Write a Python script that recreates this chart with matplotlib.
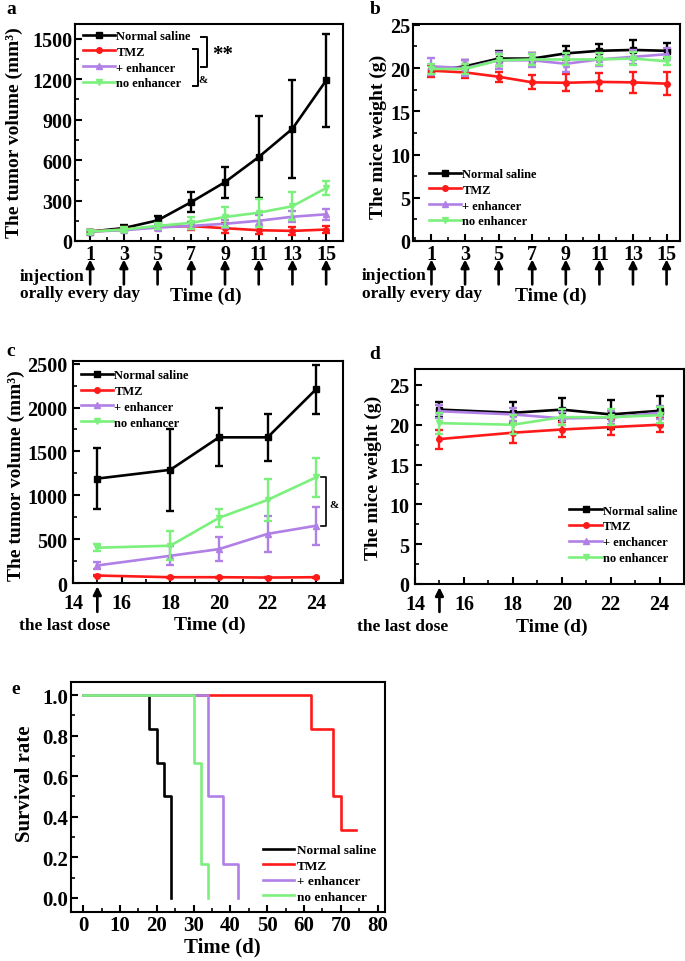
import numpy as np
import matplotlib
matplotlib.use("Agg")
from matplotlib import pyplot as plt
from matplotlib.ticker import MultipleLocator, FormatStrFormatter

plt.rcParams['font.family'] = ['Liberation Serif', 'DejaVu Serif']
plt.rcParams['font.weight'] = 'bold'
plt.rcParams['axes.labelweight'] = 'bold'

# data
groups = ["Normal saline", "TMZ", "+ enhancer", "no enhancer"]
groups_d = ["Normal saline", "TMZ", "+ enchancer", "no enhancer"]
colors = ["#000000", "#ff1a1a", "#b080e6", "#7cf07c"]
markers = ["s", "o", "^", "v"]

days_a = [1, 3, 5, 7, 9, 11, 13, 15]
vol_ns = [70, 96, 153, 289, 437, 623, 833, 1191]
vol_ns_err = [15, 20, 35, 75, 115, 305, 365, 345]
vol_tmz = [70, 85, 105, 110, 95, 80, 75, 85]
vol_tmz_err = [15, 20, 20, 30, 35, 30, 30, 25]
vol_enh = [70, 80, 100, 112, 128, 150, 180, 198]
vol_enh_err = [15, 15, 20, 25, 30, 40, 40, 40]
vol_noenh = [70, 85, 112, 135, 178, 210, 258, 393]
vol_noenh_err = [15, 20, 25, 45, 75, 105, 105, 55]

wt_ns = [19.7, 20.2, 21.1, 21.1, 21.7, 22.0, 22.1, 22.0]
wt_ns_err = [0.6, 0.7, 0.9, 0.7, 0.8, 0.8, 1.1, 0.9]
wt_tmz = [19.7, 19.5, 19.0, 18.35, 18.3, 18.4, 18.35, 18.2]
wt_tmz_err = [0.7, 0.6, 0.6, 0.8, 1.0, 1.0, 1.2, 1.3]
wt_enh = [20.2, 20.0, 20.9, 20.9, 20.5, 21.0, 21.3, 21.6]
wt_enh_err = [1.0, 0.9, 1.0, 0.8, 0.9, 0.8, 0.8, 0.7]
wt_noenh = [19.9, 19.9, 20.9, 21.0, 21.0, 21.0, 21.1, 20.8]
wt_noenh_err = [0.6, 0.6, 0.7, 0.6, 0.7, 0.7, 0.8, 0.5]

days_c = [15, 18, 20, 22, 24]
vol2_ns = [1190, 1290, 1660, 1660, 2210]
vol2_ns_err = [350, 465, 330, 270, 280]
vol2_tmz = [85, 66, 66, 62, 66]
vol2_tmz_err = [10, 8, 8, 8, 8]
vol2_enh = [200, 310, 386, 560, 653]
vol2_enh_err = [40, 110, 140, 205, 215]
vol2_noenh = [402, 425, 742, 947, 1205]
vol2_noenh_err = [40, 165, 105, 240, 220]

wt2_ns = [21.9, 21.5, 21.9, 21.3, 21.75]
wt2_ns_err = [0.9, 1.4, 1.4, 1.8, 1.8]
wt2_tmz = [18.2, 19.0, 19.4, 19.7, 20.0]
wt2_tmz_err = [1.2, 1.3, 1.0, 1.0, 0.9]
wt2_enh = [21.7, 21.3, 20.8, 20.9, 21.5]
wt2_enh_err = [0.8, 0.8, 0.8, 0.8, 0.8]
wt2_noenh = [20.2, 20.0, 20.95, 20.95, 21.2]
wt2_noenh_err = [1.3, 1.2, 1.0, 1.0, 1.0]

surv_t_ns = [0, 18, 20, 22, 24]
surv_ns = [1.0, 0.833, 0.667, 0.5, 0.0]
surv_t_tmz = [0, 62, 68, 70, 74]
surv_tmz = [1.0, 0.833, 0.5, 0.333, 0.333]
surv_t_enh = [0, 34, 38, 42]
surv_enh = [1.0, 0.5, 0.167, 0.0]
surv_t_noenh = [0, 30, 32, 34]
surv_noenh = [1.0, 0.667, 0.167, 0.0]

W, H = 685, 962
fig = plt.figure(figsize=(W / 100, H / 100), dpi=100)


def box(l, t, r, b):
    return [l / W, 1 - b / H, (r - l) / W, (b - t) / H]


def ftext(x, y, s, **kw):
    fig.text(x / W, 1 - y / H, s, ha=kw.pop('ha', 'center'), va=kw.pop('va', 'center'),
             fontweight='bold', **kw)


def style(ax, xmin, ymin, fs=14.5, xpad=2, ypad=2):
    for sp in ax.spines.values():
        sp.set_linewidth(1.5)
    ax.xaxis.set_minor_locator(MultipleLocator(xmin))
    ax.yaxis.set_minor_locator(MultipleLocator(ymin))
    ax.tick_params(which='major', direction='in', length=5, width=1.5, labelsize=fs)
    ax.tick_params(axis='x', which='major', pad=xpad)
    ax.tick_params(axis='y', which='major', pad=ypad)
    ax.tick_params(which='minor', direction='in', length=3, width=1.2)
    for lab in ax.get_xticklabels() + ax.get_yticklabels():
        lab.set_fontweight('bold')


def curves(ax, x, ys, errs, labels, loc, anchor):
    handles = []
    for y, e, c, m, lab in zip(ys, errs, colors, markers, labels):
        ax.errorbar(x, y, yerr=e, fmt='none', ecolor=c, elinewidth=1.7,
                    capsize=3, capthick=1.7)
        h, = ax.plot(x, y, color=c, marker=m, ms=4, lw=1.9, label=lab)
        handles.append(h)
    leg = ax.legend(handles=handles, loc=loc, bbox_to_anchor=anchor, frameon=False,
                    fontsize=9, handlelength=2.6, handletextpad=0.1, labelspacing=0.3,
                    borderaxespad=0)
    for t in leg.get_texts():
        t.set_fontweight('bold')


def arrows(ax, xs, head, tail):
    for x in xs:
        ax.annotate('', xy=(x, head), xytext=(x, tail),
                    xycoords=ax.get_xaxis_transform(), annotation_clip=False,
                    arrowprops=dict(arrowstyle='-|>', color='black', lw=1.9,
                                    mutation_scale=12, shrinkA=0, shrinkB=0))


# a
ax = fig.add_axes(box(75, 25, 343, 242))
curves(ax, days_a, [vol_ns, vol_tmz, vol_enh, vol_noenh],
       [vol_ns_err, vol_tmz_err, vol_enh_err, vol_noenh_err], groups, 'upper left',
       (0.01, 0.995))
ax.set_xlim(0.1, 16)
ax.set_ylim(0, 1610)
ax.set_xticks(days_a)
ax.set_yticks([0, 300, 600, 900, 1200, 1500])
style(ax, 1, 150)
arrows(ax, days_a, -0.085, -0.2)
ax.plot([0.470, 0.493, 0.493, 0.470], [0.940, 0.940, 0.802, 0.802], transform=ax.transAxes,
        color='black', lw=1.4)
ax.plot([0.440, 0.459, 0.459, 0.440], [0.885, 0.885, 0.714, 0.714], transform=ax.transAxes,
        color='black', lw=1.4)
ax.text(0.552, 0.862, '**', transform=ax.transAxes, fontsize=15, ha='center', va='center',
        fontweight='bold')
ax.text(0.478, 0.745, '&', transform=ax.transAxes, fontsize=8, ha='center', va='center',
        fontweight='bold')
ftext(11, 10, 'a', fontsize=14)
ftext(14, 133, 'The tumor volume (mm³)', rotation=90, fontsize=14)
ftext(20, 277, 'injection', ha='left', fontsize=12.5)
ftext(20, 294, 'orally every day', ha='left', fontsize=12.5)
ftext(206, 296, 'Time (d)', fontsize=14)

# b
ax = fig.add_axes(box(413, 25, 680, 242))
curves(ax, days_a, [wt_ns, wt_tmz, wt_enh, wt_noenh],
       [wt_ns_err, wt_tmz_err, wt_enh_err, wt_noenh_err], groups, 'lower left',
       (0.04, 0.04))
ax.set_xlim(-0.1, 15.8)
ax.set_ylim(0, 25.1)
ax.set_xticks(days_a)
ax.set_yticks([0, 5, 10, 15, 20, 25])
style(ax, 1, 2.5)
arrows(ax, days_a, -0.085, -0.2)
ftext(375, 10, 'b', fontsize=14)
ftext(378, 137, 'The mice weight (g)', rotation=90, fontsize=14)
ftext(362, 276, 'injection', ha='left', fontsize=12.5)
ftext(362, 294, 'orally every day', ha='left', fontsize=12.5)
ftext(551, 296, 'Time (d)', fontsize=14)

# c
ax = fig.add_axes(box(73, 362, 343, 584))
curves(ax, days_c, [vol2_ns, vol2_tmz, vol2_enh, vol2_noenh],
       [vol2_ns_err, vol2_tmz_err, vol2_enh_err, vol2_noenh_err], groups, 'upper left',
       (0.01, 0.985))
ax.set_xlim(14, 25.1)
ax.set_ylim(0, 2530)
ax.set_xticks([14, 16, 18, 20, 22, 24])
ax.set_yticks([0, 500, 1000, 1500, 2000, 2500])
style(ax, 1, 250, xpad=7, ypad=4)
arrows(ax, [15], -0.015, -0.13)
ax.plot([24.2, 24.42, 24.42, 24.2], [1204, 1204, 648, 648], color='black', lw=1.2,
        clip_on=False)
ax.text(24.72, 900, '&', fontsize=8, ha='center', va='center', fontweight='bold')
ftext(11, 352, 'c', fontsize=14)
ftext(16, 476, 'The tumor volume (mm³)', rotation=90, fontsize=14)
ftext(65, 626, 'the last dose', fontsize=12.5)
ftext(210, 625, 'Time (d)', fontsize=14)

# d
ax = fig.add_axes(box(415, 370, 684, 585))
curves(ax, days_c, [wt2_ns, wt2_tmz, wt2_enh, wt2_noenh],
       [wt2_ns_err, wt2_tmz_err, wt2_enh_err, wt2_noenh_err], groups_d, 'lower right',
       (0.995, 0.07))
ax.set_xlim(14, 25)
ax.set_ylim(0, 27)
ax.set_xticks([14, 16, 18, 20, 22, 24])
ax.set_yticks([0, 5, 10, 15, 20, 25])
style(ax, 1, 2.5, xpad=7, ypad=4)
arrows(ax, [15], -0.015, -0.13)
ftext(375, 355, 'd', fontsize=14)
ftext(373, 478, 'The mice weight (g)', rotation=90, fontsize=14)
ftext(403, 627, 'the last dose', fontsize=12.5)
ftext(552, 627, 'Time (d)', fontsize=14)

# e
ax = fig.add_axes(box(71, 683, 385, 913))
for t, s, c, lab in zip([surv_t_ns, surv_t_tmz, surv_t_enh, surv_t_noenh],
                        [surv_ns, surv_tmz, surv_enh, surv_noenh], colors, groups):
    ax.step(t, s, where='post', color=c, lw=1.9, label=lab)
leg = ax.legend(loc='lower right', frameon=False, fontsize=9.5, handlelength=2.35,
                handletextpad=0.2, labelspacing=0.25, borderaxespad=0.3)
for t in leg.get_texts():
    t.set_fontweight('bold')
ax.set_xlim(-3.3, 82)
ax.set_ylim(-0.07, 1.065)
ax.set_xticks(np.arange(0, 81, 10))
ax.set_yticks([0.0, 0.2, 0.4, 0.6, 0.8, 1.0])
ax.yaxis.set_major_formatter(FormatStrFormatter('%.1f'))
style(ax, 5, 0.1, fs=15, xpad=2)
ftext(16, 690, 'e', fontsize=14)
ftext(25, 784, 'Survival rate', rotation=90, fontsize=15)
ftext(222, 947, 'Time (d)', fontsize=15)

fig.savefig('out.png', dpi=100)
